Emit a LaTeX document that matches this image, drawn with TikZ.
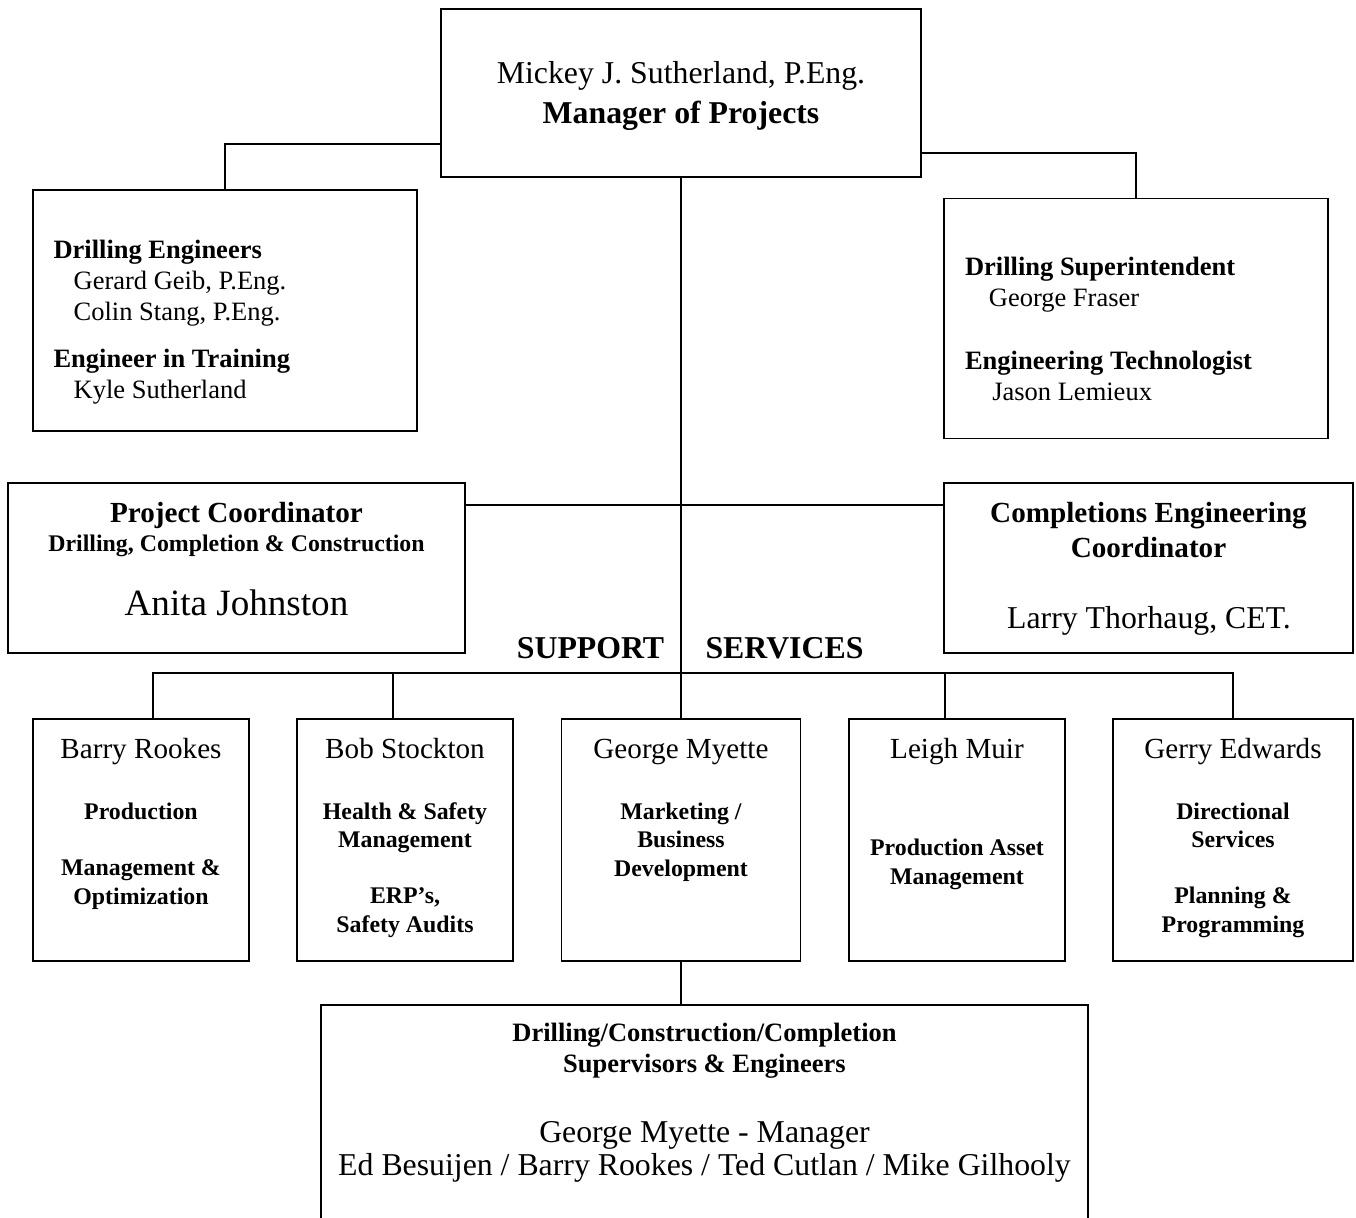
\documentclass[tikz,border=0pt]{standalone}
\usepackage{fontspec}
\setmainfont{Liberation Serif}
\usepackage{tikz}
\usetikzlibrary{positioning}
\def\pxu{0.3774pt}
\tikzset{
  box/.style = {draw=black, line width=0.75pt, inner sep=0pt},
  boxsize/.style 2 args = {minimum width=#1*\pxu, minimum height=#2*\pxu},
  link/.style = {draw=black, line width=0.6pt},
  txt/.style = {inner sep=0pt, anchor=base},% placed on the baseline of the last line
  person/.style = {txt, font=\fontsize{11}{13}\selectfont},
  duty/.style = {txt, align=center, font=\fontsize{9}{10.57}\selectfont\bfseries},
  heading/.style = {txt, font=\fontsize{12}{14}\selectfont\bfseries}
}

\begin{document}
\begin{tikzpicture}[x=0.3774pt, y=-0.3774pt]
  \useasboundingbox (0,0) rectangle (1356,1218);
  \clip (0,0) rectangle (1356,1218);

  % boxes
  \node [box, boxsize={480}{168}] (chief) at (681,93) {};
  \node [box, boxsize={384}{241}] (drilleng) at (225,310.5) {};
  \node [box, boxsize={384}{240}] (supt) at (1136,318.5) {};
  \node [box, boxsize={457}{170}] (projcoord) at (236.5,568) {};
  \node [box, boxsize={409}{170}] (complcoord) at (1148.5,568) {};
  \node [box, boxsize={216}{242}] (barry) at (141,840) {};
  \node [box, boxsize={216}{242}] (bob) at (405,840) {};
  \node [box, boxsize={239}{242}] (george) at (681,840) {};
  \node [box, boxsize={216}{242}] (leigh) at (957,840) {};
  \node [box, boxsize={240}{242}] (gerry) at (1233,840) {};
  \node [box, boxsize={767}{235}] (crew) at (704.5,1122.5) {};

  % connectors
  \draw [link] ([yshift=34*\pxu]chief.south west) -| (drilleng.north);
  \draw [link] ([yshift=25*\pxu]chief.south east) -| (supt.north);
  \draw [link] (chief.south) -- (george.north);
  \draw [link] ([yshift=-23*\pxu]projcoord.north east) -- ([yshift=-23*\pxu]complcoord.north west);
  \coordinate (bus) at (681,673);
  \draw [link] ([xshift=12*\pxu]barry.north) |- (bus) -| (gerry.north);
  \draw [link] ([xshift=-12*\pxu]bob.north) -- ++(0,-46);
  \draw [link] ([xshift=-12*\pxu]leigh.north) -- ++(0,-46);
  \draw [link] (george.south) -- (george.south |- crew.north);

  % texts
  \node [txt, align=center, font=\fontsize{12}{15.1}\selectfont] (chieftxt) at (681,123.5)
    {Mickey J. Sutherland, P.Eng.\\\textbf{Manager of Projects}};
  \node [txt, anchor=base west, align=left, font=\fontsize{10}{11.7}\selectfont] (drillengtxt) at (53,399)
    {\textbf{Drilling Engineers}\\\hspace*{7.6pt}Gerard Geib, P.Eng.\\\hspace*{7.6pt}Colin Stang, P.Eng.\\[6.4pt]
     \textbf{Engineer in Training}\\\hspace*{7.6pt}Kyle Sutherland};
  \node [txt, anchor=base west, align=left, font=\fontsize{10}{11.7}\selectfont] (supttxt) at (964.5,401)
    {\textbf{Drilling Superintendent}\\\hspace*{9pt}George Fraser\\[12.1pt]
     \textbf{Engineering Technologist}\\\hspace*{10.3pt}Jason Lemieux};

  \node [txt, font=\fontsize{11}{13}\selectfont\bfseries] (pctitle) at (236.5,522) {Project Coordinator};
  \node [txt, font=\fontsize{9}{11}\selectfont\bfseries] (pcarea) at (236.5,551) {Drilling, Completion \& Construction};
  \node [txt, font=\fontsize{14}{17}\selectfont] (pcname) at (236.5,615) {Anita Johnston};

  \node [txt, align=center, font=\fontsize{11}{13.2}\selectfont\bfseries] (cectitle) at (1148.5,557)
    {Completions Engineering\\Coordinator};
  \node [txt, font=\fontsize{12}{14}\selectfont] (cecname) at (1149,628) {Larry Thorhaug, CET.};

  \node [heading] (support) at (590.5,658.5) {SUPPORT};
  \node [heading] (services) at (784.5,658.5) {SERVICES};

  \node [person] (barryname) at (141,758) {Barry Rookes};
  \node [person] (bobname) at (405,758) {Bob Stockton};
  \node [person] (georgename) at (681,758) {George Myette};
  \node [person] (leighname) at (957,758) {Leigh Muir};
  \node [person] (gerryname) at (1233,758) {Gerry Edwards};

  \node [duty] (barryduty) at (141,904) {Production\\[10.57pt]Management \&\\Optimization};
  \node [duty] (bobduty) at (405,932) {Health \& Safety\\Management\\[10.57pt]ERP’s,\\Safety Audits};
  \node [duty] (georgeduty) at (681,876) {Marketing /\\Business\\Development};
  \node [duty] (leighduty) at (957,884) {Production Asset\\Management};
  \node [duty] (gerryduty) at (1233,932) {Directional\\Services\\[10.57pt]Planning \&\\Programming};

  \node [txt, align=center, font=\fontsize{10}{11.7}\selectfont\bfseries] (crewtitle) at (704.5,1072)
    {Drilling/Construction/Completion\\Supervisors \& Engineers};
  \node [txt, align=center, font=\fontsize{12}{12.45}\selectfont] (crewnames) at (704.5,1175)
    {George Myette - Manager\\Ed Besuijen / Barry Rookes / Ted Cutlan / Mike Gilhooly};
\end{tikzpicture}
\end{document}
